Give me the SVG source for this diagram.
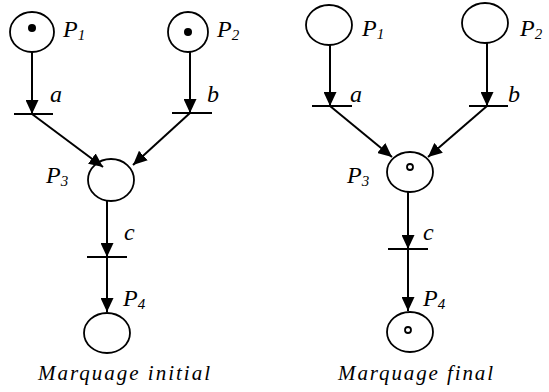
<svg xmlns="http://www.w3.org/2000/svg" width="549" height="392" viewBox="0 0 549 392">
<style>
.pl{fill:none;stroke:#000;stroke-width:1.8}
.tr{stroke:#000;stroke-width:1.8}
.arc{stroke:#000;stroke-width:2;fill:none;marker-end:url(#ah)}
.lb{font-family:'Liberation Serif','Times New Roman',serif;font-style:italic;font-size:24px;fill:#000}
.sb{font-size:15px}
.cap{font-family:'Liberation Serif','Times New Roman',serif;font-style:italic;font-size:21px;fill:#000}
.tk{fill:#000}
.tk2{fill:none;stroke:#000;stroke-width:1.8}
</style>
<defs>
<marker id="ah" markerUnits="userSpaceOnUse" markerWidth="14" markerHeight="13" refX="14" refY="6.5" orient="auto">
<path d="M0,0 L14,6.5 L0,13 z" fill="#000"/>
</marker>
</defs>
<rect width="549" height="392" fill="#fff"/>
<g id="connectors">
<line class="arc" x1="32" y1="52" x2="32" y2="114"/>
<line class="arc" x1="190" y1="52" x2="190" y2="113"/>
<line class="arc" x1="32" y1="114" x2="103" y2="167"/>
<line class="arc" x1="190" y1="113" x2="133" y2="165"/>
<line class="arc" x1="107" y1="201" x2="107" y2="257"/>
<line class="arc" x1="107" y1="257" x2="107" y2="312"/>
<line class="arc" x1="330" y1="45" x2="330" y2="106"/>
<line class="arc" x1="487" y1="43" x2="487" y2="106"/>
<line class="arc" x1="330" y1="106" x2="392" y2="157"/>
<line class="arc" x1="487" y1="106" x2="428" y2="157"/>
<line class="arc" x1="408" y1="192" x2="408" y2="249"/>
<line class="arc" x1="408" y1="249" x2="408" y2="311"/>
</g>
<g id="L-P1"><ellipse class="pl" cx="32" cy="32" rx="22" ry="20"/><circle class="tk" cx="32" cy="28" r="4"/><text class="lb" x="63" y="37">P<tspan class="sb" dy="3">1</tspan></text></g>
<g id="L-P2"><ellipse class="pl" cx="188" cy="32" rx="20" ry="20"/><circle class="tk" cx="188" cy="32" r="4"/><text class="lb" x="217" y="37">P<tspan class="sb" dy="3">2</tspan></text></g>
<g id="L-a"><line class="tr" x1="14" y1="114" x2="53" y2="114"/><text class="lb" x="50" y="102">a</text></g>
<g id="L-b"><line class="tr" x1="172" y1="113" x2="212" y2="113"/><text class="lb" x="207" y="102">b</text></g>
<g id="L-P3"><ellipse class="pl" cx="111" cy="180" rx="23" ry="21"/><text class="lb" x="46" y="183">P<tspan class="sb" dy="3">3</tspan></text></g>
<g id="L-c"><line class="tr" x1="87" y1="257" x2="127" y2="257"/><text class="lb" x="124" y="240">c</text></g>
<g id="L-P4"><ellipse class="pl" cx="107" cy="333" rx="23" ry="20"/><text class="lb" x="123" y="306">P<tspan class="sb" dy="3">4</tspan></text></g>
<text class="cap" x="38" y="380" textLength="172" lengthAdjust="spacing">Marquage initial</text>
<g id="R-P1"><ellipse class="pl" cx="329" cy="25" rx="23" ry="20"/><text class="lb" x="362" y="36">P<tspan class="sb" dy="3">1</tspan></text></g>
<g id="R-P2"><ellipse class="pl" cx="485" cy="23" rx="23" ry="20"/><text class="lb" x="520" y="36">P<tspan class="sb" dy="3">2</tspan></text></g>
<g id="R-a"><line class="tr" x1="312" y1="106" x2="352" y2="106"/><text class="lb" x="350" y="102">a</text></g>
<g id="R-b"><line class="tr" x1="469" y1="106" x2="508" y2="106"/><text class="lb" x="508" y="102">b</text></g>
<g id="R-P3"><ellipse class="pl" cx="410" cy="172" rx="23" ry="20"/><circle class="tk2" cx="410" cy="167" r="3"/><text class="lb" x="347" y="183">P<tspan class="sb" dy="3">3</tspan></text></g>
<g id="R-c"><line class="tr" x1="388" y1="249" x2="428" y2="249"/><text class="lb" x="423" y="240">c</text></g>
<g id="R-P4"><ellipse class="pl" cx="410" cy="332" rx="23" ry="20"/><circle class="tk2" cx="408" cy="330" r="3"/><text class="lb" x="423" y="306">P<tspan class="sb" dy="3">4</tspan></text></g>
<text class="cap" x="338" y="380" textLength="155" lengthAdjust="spacing">Marquage final</text>
</svg>
